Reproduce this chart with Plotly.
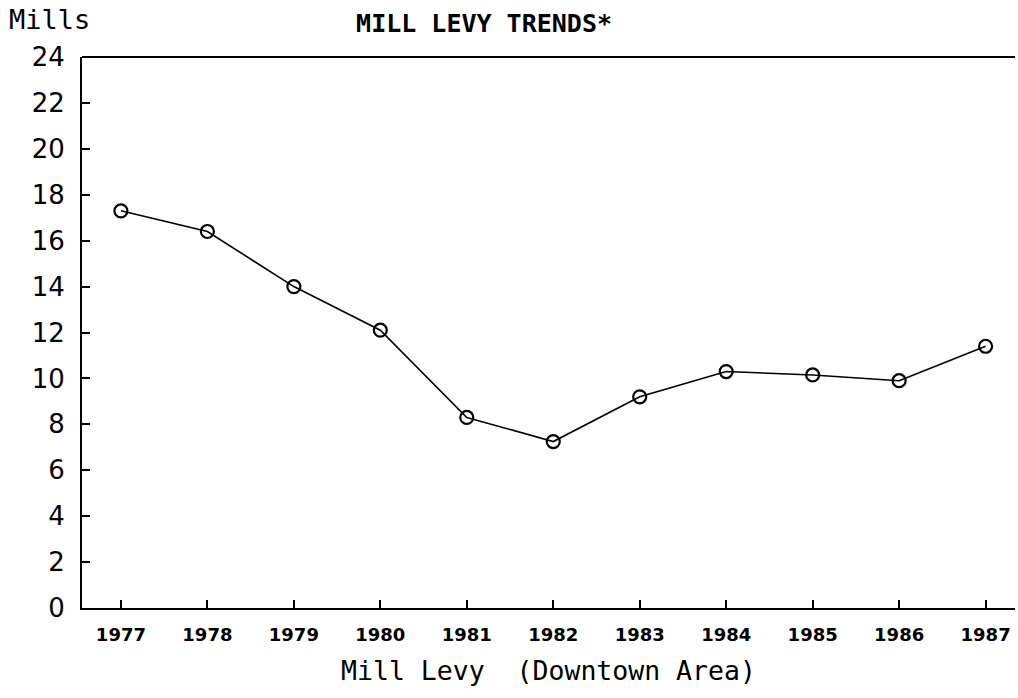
import plotly.graph_objects as go

years = [1977, 1978, 1979, 1980, 1981, 1982, 1983, 1984, 1985, 1986, 1987]
mills = [17.3, 16.4, 14.0, 12.1, 8.3, 7.25, 9.2, 10.3, 10.15, 9.9, 11.4]
y_ticks = list(range(0, 25, 2))

mono = "DejaVu Sans Mono"
sans = "DejaVu Sans"

fig = go.Figure()
fig.add_trace(go.Scatter(
    x=years, y=mills, mode="lines+markers",
    line=dict(color="black", width=1.6),
    marker=dict(symbol="circle-open", size=13, color="black",
                line=dict(color="black", width=2.2)),
    showlegend=False, hoverinfo="x+y",
))

fig.update_layout(
    width=1018, height=698,
    margin=dict(l=82, r=3, t=57, b=90, autoexpand=False),
    paper_bgcolor="white", plot_bgcolor="white",
    title=dict(text="MILL LEVY TRENDS*", x=0.4755, xanchor="center",
               y=1 - 23 / 698, yanchor="middle", automargin=False,
               font=dict(family=mono, size=25, color="black", weight="bold")),
    xaxis=dict(
        range=[1976.55, 1987.34], tickmode="array", tickvals=years,
        ticktext=[str(y) for y in years], automargin=False,
        ticks="inside", ticklen=8, tickwidth=2, tickcolor="black",
        showline=True, linecolor="black", linewidth=2,
        showgrid=False, zeroline=False,
        tickfont=dict(family=sans, size=18, color="black", weight="bold"),
        ticklabelstandoff=9,
        title=dict(text="Mill Levy  (Downtown Area)",
                   font=dict(family=mono, size=26.5, color="black"),
                   standoff=18),
    ),
    yaxis=dict(
        range=[0, 24], tickmode="array", tickvals=y_ticks, automargin=False,
        ticks="inside", ticklen=8, tickwidth=2, tickcolor="black",
        showline=True, linecolor="black", linewidth=2,
        showgrid=False, zeroline=False,
        tickfont=dict(family=sans, size=26, color="black"),
        ticklabelstandoff=10,
    ),
    shapes=[dict(type="line", xref="paper", yref="paper", x0=0, x1=1,
                 y0=1, y1=1, line=dict(color="black", width=2))],
    annotations=[dict(text="Mills", xref="paper", yref="paper",
                      x=-75 / 933, y=1 + 37 / 551, xanchor="left",
                      yanchor="middle", showarrow=False,
                      font=dict(family=mono, size=27, color="black"))],
)

fig.write_html("out.html", config={"displayModeBar": False},
               post_script="document.body.style.margin='0';document.body.style.overflow='hidden';")
